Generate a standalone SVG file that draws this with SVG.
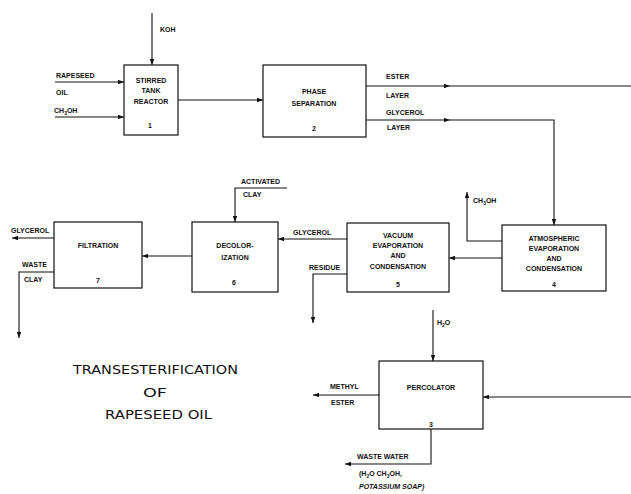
<svg xmlns="http://www.w3.org/2000/svg" width="631" height="494" viewBox="0 0 631 494">
<style>
  .box{fill:#fff;stroke:#111;stroke-width:1.2}
  .ln{fill:none;stroke:#111;stroke-width:1.1}
  .t{font-family:"Liberation Sans",Arial,sans-serif;font-size:7px;fill:#111;font-weight:bold}
  .c{text-anchor:middle}
  .title{font-family:"DejaVu Sans","Liberation Sans",sans-serif;font-size:12.5px;fill:#111;font-weight:normal}
</style>
<defs>
  <marker id="ah" viewBox="0 0 8 6" refX="8" refY="3" markerWidth="6" markerHeight="4.5" orient="auto" markerUnits="userSpaceOnUse">
    <path d="M0,0 L8,3 L0,6 z" fill="#111"/>
  </marker>
</defs>
<rect width="631" height="494" fill="#fff"/>

<g id="connectors">
  <path class="ln" d="M152,13 V65" marker-end="url(#ah)"/>
  <path class="ln" d="M55,82 H124" marker-end="url(#ah)"/>
  <path class="ln" d="M55,117 H124" marker-end="url(#ah)"/>
  <path class="ln" d="M178,100 H263" marker-end="url(#ah)"/>
  <path class="ln" d="M366,86 H450" marker-end="url(#ah)"/>
  <path class="ln" d="M450,86 H631"/>
  <path class="ln" d="M366,120 H450" marker-end="url(#ah)"/>
  <path class="ln" d="M450,120 H554 V225" marker-end="url(#ah)"/>
  <path class="ln" d="M502,241 H467 V192" marker-end="url(#ah)"/>
  <path class="ln" d="M502,258 H449" marker-end="url(#ah)"/>
  <path class="ln" d="M347,239 H278" marker-end="url(#ah)"/>
  <path class="ln" d="M347,274 H313 V323" marker-end="url(#ah)"/>
  <path class="ln" d="M287,188 H235 V222" marker-end="url(#ah)"/>
  <path class="ln" d="M192,256 H142" marker-end="url(#ah)"/>
  <path class="ln" d="M54,238 H12" marker-end="url(#ah)"/>
  <path class="ln" d="M54,272 H19 V338" marker-end="url(#ah)"/>
  <path class="ln" d="M433,310 V361" marker-end="url(#ah)"/>
  <path class="ln" d="M631,397 H483" marker-end="url(#ah)"/>
  <path class="ln" d="M379,395 H313" marker-end="url(#ah)"/>
  <path class="ln" d="M431,429 V464 H345" marker-end="url(#ah)"/>
</g>

<g id="stream-labels">
  <text class="t" x="160" y="32">KOH</text>
  <text class="t" x="56" y="78">RAPESEED</text>
  <text class="t" x="56" y="95">OIL</text>
  <text class="t" x="54" y="113">CH<tspan font-size="5" dy="2">3</tspan><tspan dy="-2">OH</tspan></text>
  <text class="t" x="386" y="79">ESTER</text>
  <text class="t" x="386" y="98">LAYER</text>
  <text class="t" x="386" y="115">GLYCEROL</text>
  <text class="t" x="387" y="130">LAYER</text>
  <text class="t" x="473" y="203">CH<tspan font-size="5" dy="2">3</tspan><tspan dy="-2">OH</tspan></text>
  <text class="t" x="293" y="235">GLYCEROL</text>
  <text class="t" x="309" y="270">RESIDUE</text>
  <text class="t" x="241" y="184">ACTIVATED</text>
  <text class="t" x="243" y="197">CLAY</text>
  <text class="t" x="11" y="233">GLYCEROL</text>
  <text class="t" x="22" y="267">WASTE</text>
  <text class="t" x="24" y="282">CLAY</text>
  <text class="t" x="437" y="325">H<tspan font-size="5" dy="2">2</tspan><tspan dy="-2">O</tspan></text>
  <text class="t" x="330" y="389">METHYL</text>
  <text class="t" x="331" y="405">ESTER</text>
  <text class="t" x="357" y="459">WASTE WATER</text>
  <text class="t" x="359" y="476">(H<tspan font-size="5" dy="2">2</tspan><tspan dy="-2">O CH</tspan><tspan font-size="5" dy="2">3</tspan><tspan dy="-2">OH,</tspan></text>
  <text class="t" x="359" y="489" font-style="italic">POTASSIUM SOAP)</text>
</g>

<g id="n1">
  <rect class="box" x="124" y="65" width="54" height="70"/>
  <text class="t c" x="151" y="83">STIRRED</text>
  <text class="t c" x="151" y="93">TANK</text>
  <text class="t c" x="151" y="104">REACTOR</text>
  <text class="t c" x="150" y="128">1</text>
</g>
<g id="n2">
  <rect class="box" x="263" y="65" width="103" height="72"/>
  <text class="t c" x="314" y="94">PHASE</text>
  <text class="t c" x="314" y="106">SEPARATION</text>
  <text class="t c" x="314" y="131">2</text>
</g>
<g id="n4">
  <rect class="box" x="502" y="225" width="104" height="66"/>
  <text class="t c" x="554" y="241">ATMOSPHERIC</text>
  <text class="t c" x="554" y="251">EVAPORATION</text>
  <text class="t c" x="554" y="261">AND</text>
  <text class="t c" x="554" y="271">CONDENSATION</text>
  <text class="t c" x="554" y="287">4</text>
</g>
<g id="n5">
  <rect class="box" x="347" y="223" width="102" height="69"/>
  <text class="t c" x="398" y="238">VACUUM</text>
  <text class="t c" x="398" y="248">EVAPORATION</text>
  <text class="t c" x="398" y="258">AND</text>
  <text class="t c" x="398" y="269">CONDENSATION</text>
  <text class="t c" x="398" y="287">5</text>
</g>
<g id="n6">
  <rect class="box" x="192" y="222" width="86" height="70"/>
  <text class="t c" x="235" y="248">DECOLOR-</text>
  <text class="t c" x="235" y="260">IZATION</text>
  <text class="t c" x="234" y="285">6</text>
</g>
<g id="n7">
  <rect class="box" x="54" y="222" width="88" height="66"/>
  <text class="t c" x="98" y="248">FILTRATION</text>
  <text class="t c" x="98" y="283">7</text>
</g>
<g id="n3">
  <rect class="box" x="379" y="361" width="104" height="68"/>
  <text class="t c" x="431" y="390">PERCOLATOR</text>
  <text class="t c" x="431" y="427">3</text>
</g>

<g id="title">
  <text class="title" x="73" y="374" textLength="165" lengthAdjust="spacingAndGlyphs">TRANSESTERIFICATION</text>
  <text class="title" x="143" y="397" textLength="24" lengthAdjust="spacingAndGlyphs">OF</text>
  <text class="title" x="105" y="419" textLength="107" lengthAdjust="spacingAndGlyphs">RAPESEED  OIL</text>
</g>
</svg>
